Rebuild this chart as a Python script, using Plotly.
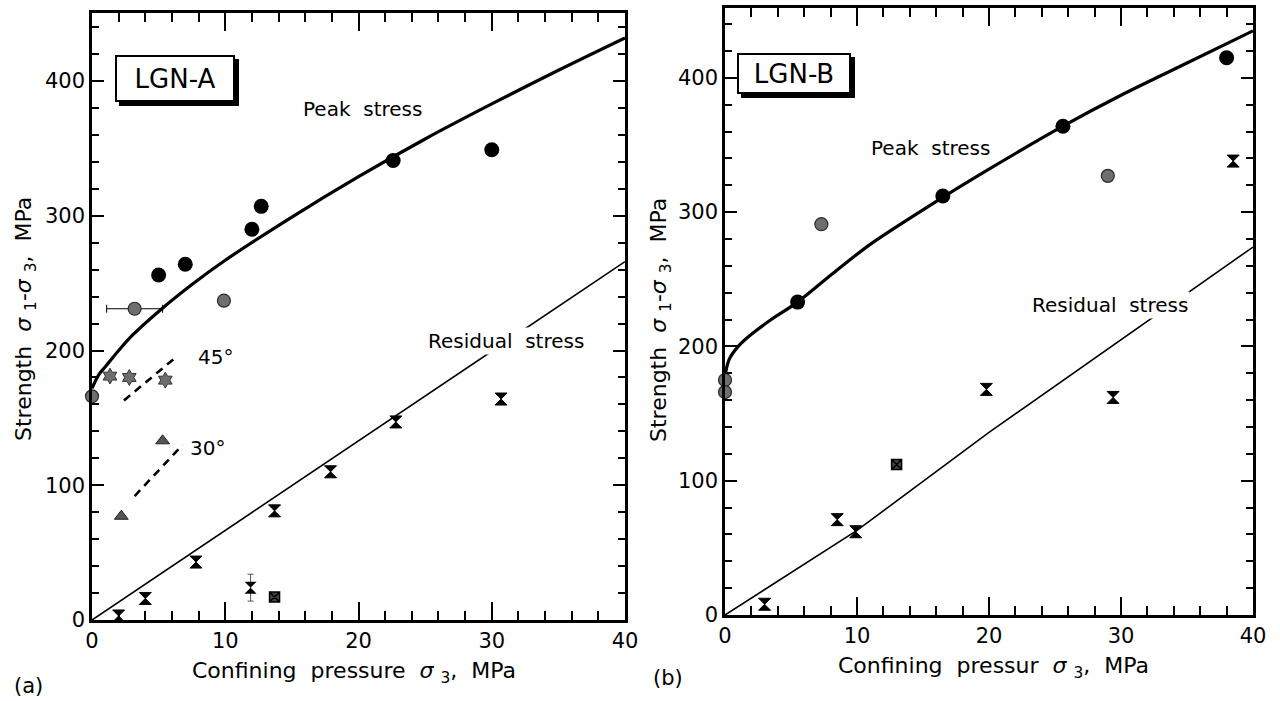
import plotly.graph_objects as go

FONT = "DejaVu Sans"

# ---------------- LGN-A (panel a) ----------------
a_peak_x = [5.0, 7.0, 12.0, 12.7, 22.6, 30.0]
a_peak_y = [256, 264, 290, 307, 341, 349]

a_gray_x = [0.0, 9.9]
a_gray_y = [166, 237]
a_grayerr_x = [3.2]
a_grayerr_y = [231]
a_grayerr_dx = [2.1]

a_star_x = [1.35, 2.8, 5.5]
a_star_y = [181, 180, 178]

a_tri_x = [2.2, 5.3]
a_tri_y = [77, 133]

a_res_x = [2.0, 4.0, 7.8, 13.7, 17.9, 22.8, 30.7]
a_res_y = [3, 16, 43, 81, 110, 147, 164]
a_resbox_x = [13.7]
a_resbox_y = [17]
a_reserr_x = [11.9]
a_reserr_y = [24]
a_reserr_dy = [10]

a_curve_x = [0, 0.5, 1, 2, 3, 5, 7.5, 10, 15, 20, 25, 30, 35, 40]
a_curve_y = [172, 182, 188, 200, 211, 229, 249, 267, 299, 329, 357, 383, 408, 432]

a_resline_x = [0, 40]
a_resline_y = [0, 266]

a_d45_x = [2.4, 6.3]
a_d45_y = [163, 195]
a_d30_x = [3.2, 6.8]
a_d30_y = [92, 130]

# ---------------- LGN-B (panel b) ----------------
b_peak_x = [5.5, 16.5, 25.6, 38.0]
b_peak_y = [233, 312, 364, 415]

b_gray_x = [0.0, 0.0, 7.3, 29.0]
b_gray_y = [175, 166, 291, 327]

b_res_x = [3.0, 8.5, 9.9, 19.8, 29.4, 38.5]
b_res_y = [8, 71, 62, 168, 162, 338]
b_resbox_x = [13.0]
b_resbox_y = [112]

b_curve_x = [0, 0.3, 1, 2, 3.5, 5.5, 8, 11, 16.5, 20, 25.6, 30, 35, 40]
b_curve_y = [178, 190, 200, 209, 220, 233, 253, 276, 311, 332, 364, 387, 411, 435]

b_resline_x = [0, 10, 20, 30, 40]
b_resline_y = [0, 63, 136, 205, 274]

x_ticks = [0, 10, 20, 30, 40]
y_ticks = [0, 100, 200, 300, 400]

W, H = 1280, 701

fig = go.Figure()

def add_panel(xa, ya, curve_x, curve_y, resl_x, resl_y, peak_x, peak_y,
              gray_x, gray_y, res_x, res_y, box_x, box_y):
    fig.add_trace(go.Scatter(x=curve_x, y=curve_y, mode="lines", line=dict(color="black", width=3.2, shape="spline", smoothing=0.8),
                             xaxis=xa, yaxis=ya, showlegend=False, cliponaxis=True))
    fig.add_trace(go.Scatter(x=resl_x, y=resl_y, mode="lines", line=dict(color="black", width=1.6),
                             xaxis=xa, yaxis=ya, showlegend=False))
    fig.add_trace(go.Scatter(x=peak_x, y=peak_y, mode="markers",
                             marker=dict(symbol="circle", size=15, color="black"),
                             xaxis=xa, yaxis=ya, showlegend=False, cliponaxis=False))
    fig.add_trace(go.Scatter(x=gray_x, y=gray_y, mode="markers",
                             marker=dict(symbol="circle", size=13, color="#6e6e6e", line=dict(color="#2a2a2a", width=1.2)),
                             xaxis=xa, yaxis=ya, showlegend=False, cliponaxis=False))
    fig.add_trace(go.Scatter(x=res_x, y=res_y, mode="markers",
                             marker=dict(symbol="hourglass", size=12, color="black", line=dict(color="black", width=1)),
                             xaxis=xa, yaxis=ya, showlegend=False, cliponaxis=False))
    fig.add_trace(go.Scatter(x=box_x, y=box_y, mode="markers",
                             marker=dict(symbol="square-x", size=10, color="#444", line=dict(color="black", width=1.5)),
                             xaxis=xa, yaxis=ya, showlegend=False, cliponaxis=False))

add_panel("x", "y", a_curve_x, a_curve_y, a_resline_x, a_resline_y, a_peak_x, a_peak_y,
          a_gray_x, a_gray_y, a_res_x, a_res_y, a_resbox_x, a_resbox_y)
add_panel("x2", "y2", b_curve_x, b_curve_y, b_resline_x, b_resline_y, b_peak_x, b_peak_y,
          b_gray_x, b_gray_y, b_res_x, b_res_y, b_resbox_x, b_resbox_y)

# panel a extras
fig.add_trace(go.Scatter(x=a_grayerr_x, y=a_grayerr_y, mode="markers",
                         marker=dict(symbol="circle", size=13, color="#6e6e6e", line=dict(color="#2a2a2a", width=1.2)),
                         error_x=dict(type="data", array=a_grayerr_dx, color="black", thickness=1, width=4),
                         xaxis="x", yaxis="y", showlegend=False, cliponaxis=False))
fig.add_trace(go.Scatter(x=a_reserr_x, y=a_reserr_y, mode="markers",
                         marker=dict(symbol="hourglass", size=12, color="black"),
                         error_y=dict(type="data", array=a_reserr_dy, color="#555", thickness=1, width=3),
                         xaxis="x", yaxis="y", showlegend=False, cliponaxis=False))
fig.add_trace(go.Scatter(x=a_star_x, y=a_star_y, mode="markers",
                         marker=dict(symbol="hexagram", size=12, color="#6e6e6e", line=dict(color="#333", width=1)),
                         xaxis="x", yaxis="y", showlegend=False, cliponaxis=False))
fig.add_trace(go.Scatter(x=a_tri_x, y=a_tri_y, mode="markers",
                         marker=dict(symbol="triangle-up", size=12, color="#555", line=dict(color="#222", width=1)),
                         xaxis="x", yaxis="y", showlegend=False, cliponaxis=False))
for dx, dy in ((a_d45_x, a_d45_y), (a_d30_x, a_d30_y)):
    fig.add_trace(go.Scatter(x=dx, y=dy, mode="lines", line=dict(color="black", width=2.6, dash="8px,6px"),
                             xaxis="x", yaxis="y", showlegend=False))

def xaxis_cfg(dom, anchor):
    return dict(domain=dom, range=[0, 40], anchor=anchor, showline=True, linewidth=2.5, linecolor="black",
                mirror="allticks", ticks="inside", ticklen=18, tickwidth=2, tickcolor="black",
                tickvals=x_ticks, showgrid=False, zeroline=False, automargin=False,
                minor=dict(dtick=2, tick0=0, ticks="inside", ticklen=9, tickwidth=2, tickcolor="black", showgrid=False),
                tickfont=dict(family=FONT, size=21, color="black"))

def yaxis_cfg(dom, rng, anchor):
    return dict(domain=dom, range=rng, anchor=anchor, showline=True, linewidth=2.5, linecolor="black",
                mirror="allticks", ticks="inside", ticklen=12, tickwidth=2, tickcolor="black",
                tickvals=y_ticks, showgrid=False, zeroline=False, automargin=False,
                minor=dict(dtick=20, tick0=0, ticks="inside", ticklen=7, tickwidth=2, tickcolor="black", showgrid=False),
                tickfont=dict(family=FONT, size=21, color="black"))

fig.update_layout(
    width=W, height=H, margin=dict(l=0, r=0, t=0, b=0, pad=0, autoexpand=False),
    paper_bgcolor="white", plot_bgcolor="white", showlegend=False,
    xaxis=xaxis_cfg([92 / W, 625 / W], "y"),
    yaxis=yaxis_cfg([1 - 620 / H, 1 - 13 / H], [0, 450.5], "x"),
    xaxis2=xaxis_cfg([725 / W, 1253 / W], "y2"),
    yaxis2=yaxis_cfg([1 - 615 / H, 1 - 8 / H], [0, 452], "x2"),
    font=dict(family=FONT, color="black"),
)

ann = []
def txt(x, y, t, size=20, xref="x", yref="y", bg=None, angle=0):
    d = dict(x=x, y=y, xref=xref, yref=yref, text=t, showarrow=False, xanchor="center", yanchor="middle",
             font=dict(family=FONT, size=size, color="black"), textangle=angle)
    if bg:
        d["bgcolor"] = bg
    ann.append(d)

# panel a labels
txt(20.3, 379, "Peak  stress")
txt(31.1, 207, "Residual  stress", bg="white")
txt(9.3, 195, "45°")
txt(8.7, 128, "30°")
# panel b labels
txt(15.6, 348, "Peak  stress", xref="x2", yref="y2")
txt(29.2, 231, "Residual  stress", xref="x2", yref="y2", bg="white")

# LGN boxes with shadow
for (bx, by, label, xr, yr, w, h) in ((6.2, 402, "LGN-A", "x", "y", 114, 41),
                                      (5.2, 403, "LGN-B", "x2", "y2", 108, 35)):
    ann.append(dict(x=bx, y=by, xref=xr, yref=yr, text=label, showarrow=False, width=w, height=h,
                    xanchor="center", yanchor="middle",
                    bgcolor="black", bordercolor="black", borderwidth=2, xshift=4, yshift=-4,
                    font=dict(family=FONT, size=26, color="black")))
    ann.append(dict(x=bx, y=by, xref=xr, yref=yr, text=label, showarrow=False, width=w, height=h,
                    xanchor="center", yanchor="middle",
                    bgcolor="white", bordercolor="black", borderwidth=2,
                    font=dict(family=FONT, size=26, color="black")))

# axis titles
txt(354 / W, 1 - 672 / H, "Confining  pressure  <i>σ</i> <sub>3</sub>,  MPa", size=22, xref="paper", yref="paper")
txt(993 / W, 1 - 667 / H, "Confining  pressur  <i>σ</i> <sub>3</sub>,  MPa", size=22, xref="paper", yref="paper")
txt(26 / W, 1 - 319 / H, "Strength  <i>σ</i> <sub>1</sub>-<i>σ</i> <sub>3</sub>,  MPa", size=22, xref="paper", yref="paper", angle=-90)
txt(660 / W, 1 - 320 / H, "Strength  <i>σ</i> <sub>1</sub>-<i>σ</i> <sub>3</sub>,  MPa", size=22, xref="paper", yref="paper", angle=-90)
txt(28 / W, 1 - 686 / H, "(a)", size=21, xref="paper", yref="paper")
txt(668 / W, 1 - 678 / H, "(b)", size=21, xref="paper", yref="paper")

fig.update_layout(annotations=ann)
fig.write_html("out.html", config={"displayModeBar": False},
               post_script="document.body.style.margin='0px';document.body.style.overflow='hidden';")
